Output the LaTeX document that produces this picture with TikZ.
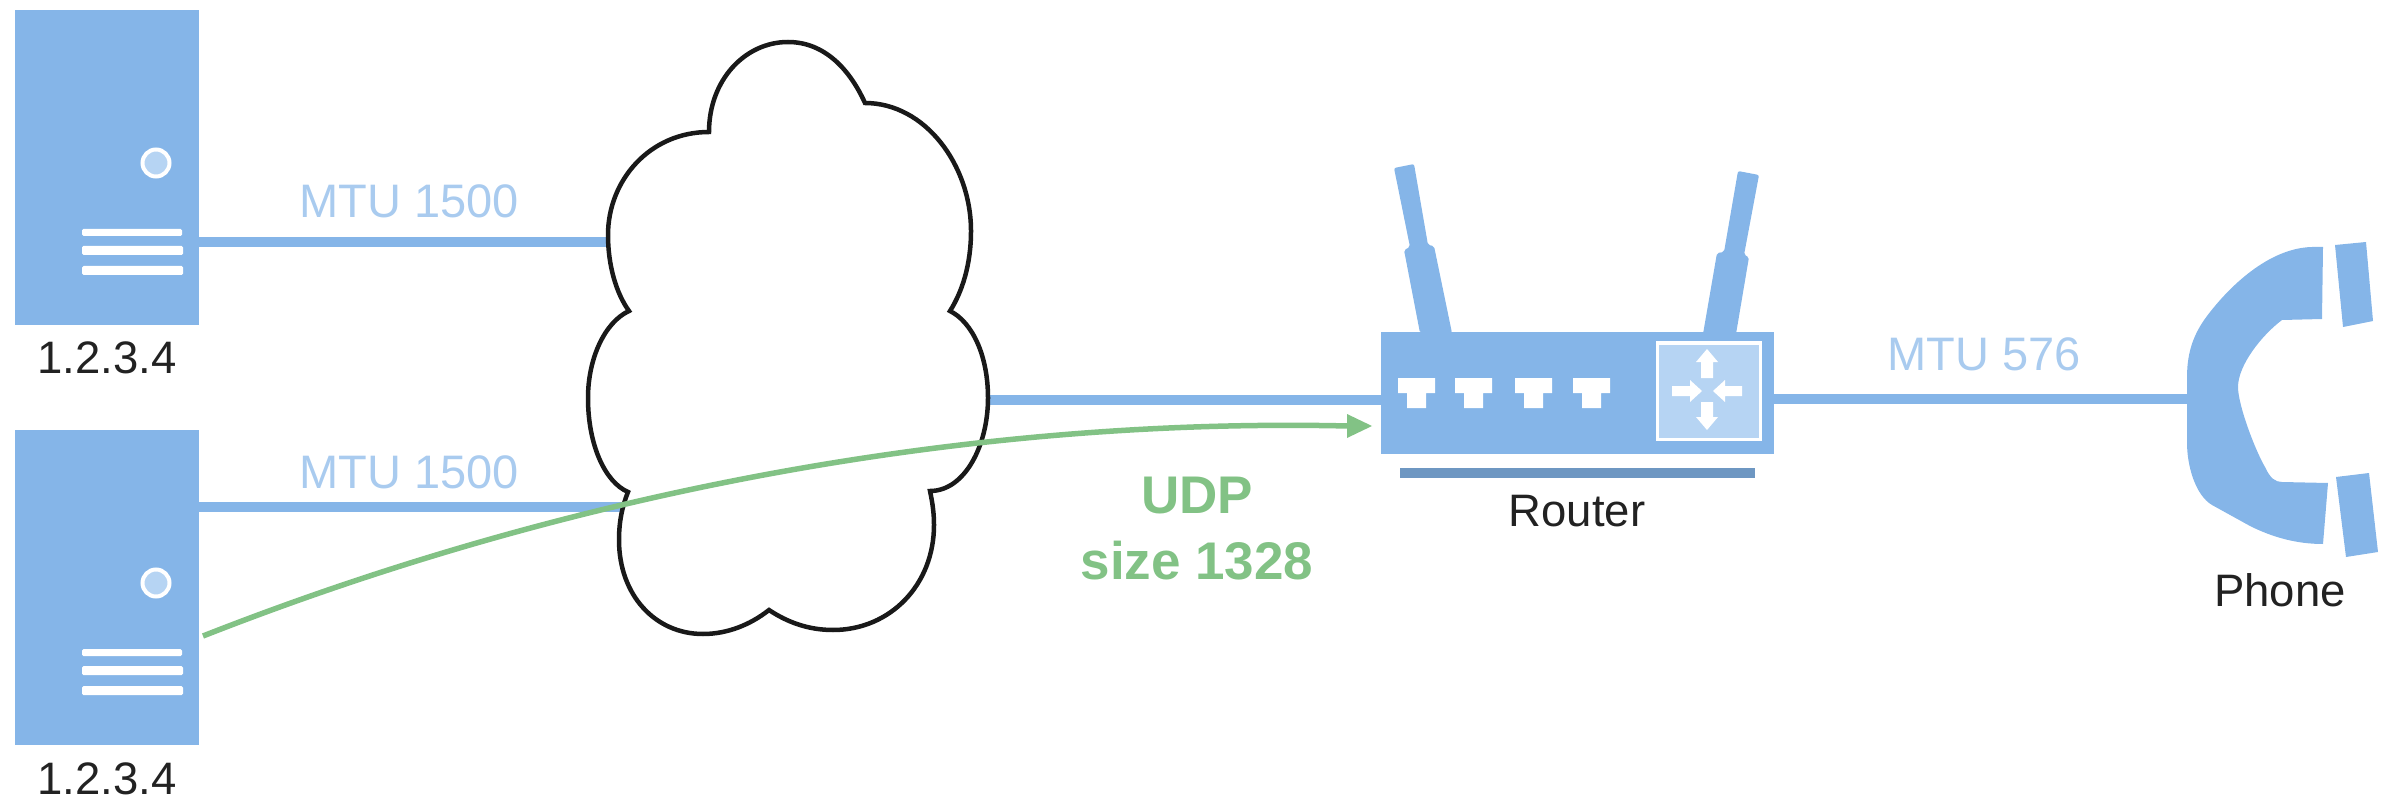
\documentclass[tikz,border=0pt]{standalone}
\usepackage{fontspec}
\setmainfont{Liberation Sans}
\definecolor{devblue}{HTML}{85B5E8}
\definecolor{panelblue}{HTML}{B6D4F3}
\definecolor{basebar}{HTML}{6E97C2}
\definecolor{mtublue}{HTML}{A9CBEF}
\definecolor{udpgreen}{HTML}{82C285}
\definecolor{labelgray}{HTML}{222222}
\tikzset{
  device/.style={fill=devblue,draw=none,inner sep=0pt,outer sep=0pt},
  srvbox/.style={device,rectangle,minimum width=184pt,minimum height=315pt},
  routerbox/.style={device,rectangle,minimum width=393pt,minimum height=122pt},
  link/.style={devblue,line width=10pt},
  whitebar/.style={fill=white,draw=none,rounded corners=1.5pt},
  lbl/.style={font=\fontsize{45.5}{54}\selectfont,text=labelgray,inner sep=0pt},
  mtu/.style={font=\fontsize{47}{54}\selectfont,text=mtublue,inner sep=0pt},
  udp/.style={font=\bfseries\fontsize{53}{60}\selectfont,text=udpgreen,inner sep=0pt,align=center},
  cloudline/.style={fill=white,draw=black!90,line width=4.5pt,line join=miter},
}
\newcommand{\srvmarks}[1]{%
  \begin{scope}[shift={(0,#1)}]
    \fill[whitebar] (82,229) rectangle (182,236);
    \fill[whitebar] (82,246) rectangle (183,255);
    \fill[whitebar] (82,266) rectangle (183,275);
    \draw[white,line width=4pt,fill=panelblue] (156,163) circle (13.5);
  \end{scope}}
\newcommand{\porttee}[1]{%
  \fill[white] (#1,378) -- ++(37,0) -- ++(0,15) -- ++(-9,0) -- ++(0,15) -- ++(-19,0) -- ++(0,-15) -- ++(-9,0) -- cycle;}
\begin{document}
\begin{tikzpicture}[x=1pt,y=-1pt]
\useasboundingbox (0,0) rectangle (2391,802);
% anchor coordinates
\coordinate (cloudA) at (610,242);
\coordinate (cloudB) at (625,507);
\coordinate (cloudC) at (985,400);
\coordinate (phonein) at (2190,399);
\coordinate (udpstart) at (203,636);
\coordinate (udpend) at (1372,426);
% devices
\node[srvbox] (srvone) at (107,167.5) {};
\node[srvbox] (srvtwo) at (107,587.5) {};
\node[routerbox] (router) at (1577.5,393) {};
% links
\draw[link] (srvone.east |- cloudA) -- (cloudA);
\draw[link] (srvtwo.east |- cloudB) -- (cloudB);
\draw[link] (cloudC) -- (router.west |- cloudC);
\draw[link] (router.east |- phonein) -- (phonein);
% cloud
\draw[cloudline] (709,132)
  .. controls (709,80) and (745,42) .. (788,42)
  .. controls (825,42) and (850,70) .. (865,103)
  .. controls (925,103) and (971,165) .. (971,231)
  .. controls (971,265) and (962,292) .. (950,311)
  .. controls (972,322) and (988,355) .. (988,398)
  .. controls (988,445) and (965,491) .. (930,491)
  .. controls (933,505) and (934,515) .. (934,525)
  .. controls (934,585) and (890,630) .. (833,630)
  .. controls (808,630) and (787,622) .. (769,610)
  .. controls (750,625) and (727,634) .. (703,634)
  .. controls (655,634) and (619,595) .. (619,540)
  .. controls (619,522) and (622,507) .. (628,492)
  .. controls (605,482) and (588,445) .. (588,398)
  .. controls (588,358) and (605,322) .. (629,311)
  .. controls (616,293) and (608,265) .. (608,235)
  .. controls (608,180) and (650,132) .. (709,132) -- cycle;
% server details
\srvmarks{0}
\srvmarks{420}
% router details
\fill[devblue,rounded corners=2pt] (1394,168) -- (1414,164) -- (1428,245) -- (1434,246) -- (1452,333) -- (1420,333) -- (1404,250) -- (1410,247) -- cycle;
\fill[devblue,rounded corners=2pt] (1738,171) -- (1759,175) -- (1744,255) -- (1749,257) -- (1736,334) -- (1703,334) -- (1717,253) -- (1724,252) -- cycle;
\fill[basebar] (1400,468) rectangle (1755,478);
\porttee{1398}\porttee{1455}\porttee{1515}\porttee{1573}
\draw[white,line width=3pt,fill=panelblue] (1657,343) rectangle (1760,439);
\begin{scope}[shift={(1707,391)}]
  \fill[white] (-6,-13) -- (-6,-29) -- (-11,-29) -- (0,-42) -- (11,-29) -- (6,-29) -- (6,-13) -- cycle;
  \fill[white] (-6,11) -- (-6,26) -- (-11,26) -- (0,39) -- (11,26) -- (6,26) -- (6,11) -- cycle;
  \fill[white] (-35,-5) -- (-17,-5) -- (-17,-11) -- (-5,0) -- (-17,11) -- (-17,5) -- (-35,5) -- cycle;
  \fill[white] (35,-5) -- (18,-5) -- (18,-11) -- (6,0) -- (18,11) -- (18,5) -- (35,5) -- cycle;
\end{scope}
% phone
\fill[devblue] (2323,247) -- (2322,319) -- (2282,320)
  .. controls (2262,335) and (2238,365) .. (2238,387)
  .. controls (2238,405) and (2255,450) .. (2265,467)
  .. controls (2270,478) and (2275,482) .. (2282,482)
  -- (2328,483) -- (2323,544)
  .. controls (2296,544) and (2272,537) .. (2250,526)
  -- (2212,505)
  .. controls (2195,495) and (2187,465) .. (2187,443)
  -- (2187,377)
  .. controls (2187,350) and (2195,332) .. (2207,316)
  .. controls (2228,288) and (2268,248) .. (2312,247) -- cycle;
\fill[devblue] (2335,245) -- (2366,242) -- (2373,321) -- (2343,327) -- cycle;
\fill[devblue] (2336,477) -- (2369,473) -- (2378,552) -- (2346,557) -- cycle;
% udp path
\draw[udpgreen,line width=5.5pt] (udpstart) .. controls (600,480) and (1000,418) .. (1348,426);
\fill[udpgreen] (udpend) -- (1347,414) -- (1347,438) -- cycle;
% labels
\node[lbl] (addrone) at (107,358) {1.2.3.4};
\node[lbl] (addrtwo) at (107,779) {1.2.3.4};
\node[mtu] (mtuone) at (409,201) {MTU 1500};
\node[mtu] (mtutwo) at (409,472) {MTU 1500};
\node[mtu] (mtuthree) at (1984,354) {MTU 576};
\node[lbl] (routerlbl) at (1577,511) {Router};
\node[lbl] (phonelbl) at (2280,590) {Phone};
\node[udp] (udpone) at (1197,496) {UDP};
\node[udp] (udptwo) at (1197,561) {size 1328};
\end{tikzpicture}
\end{document}
